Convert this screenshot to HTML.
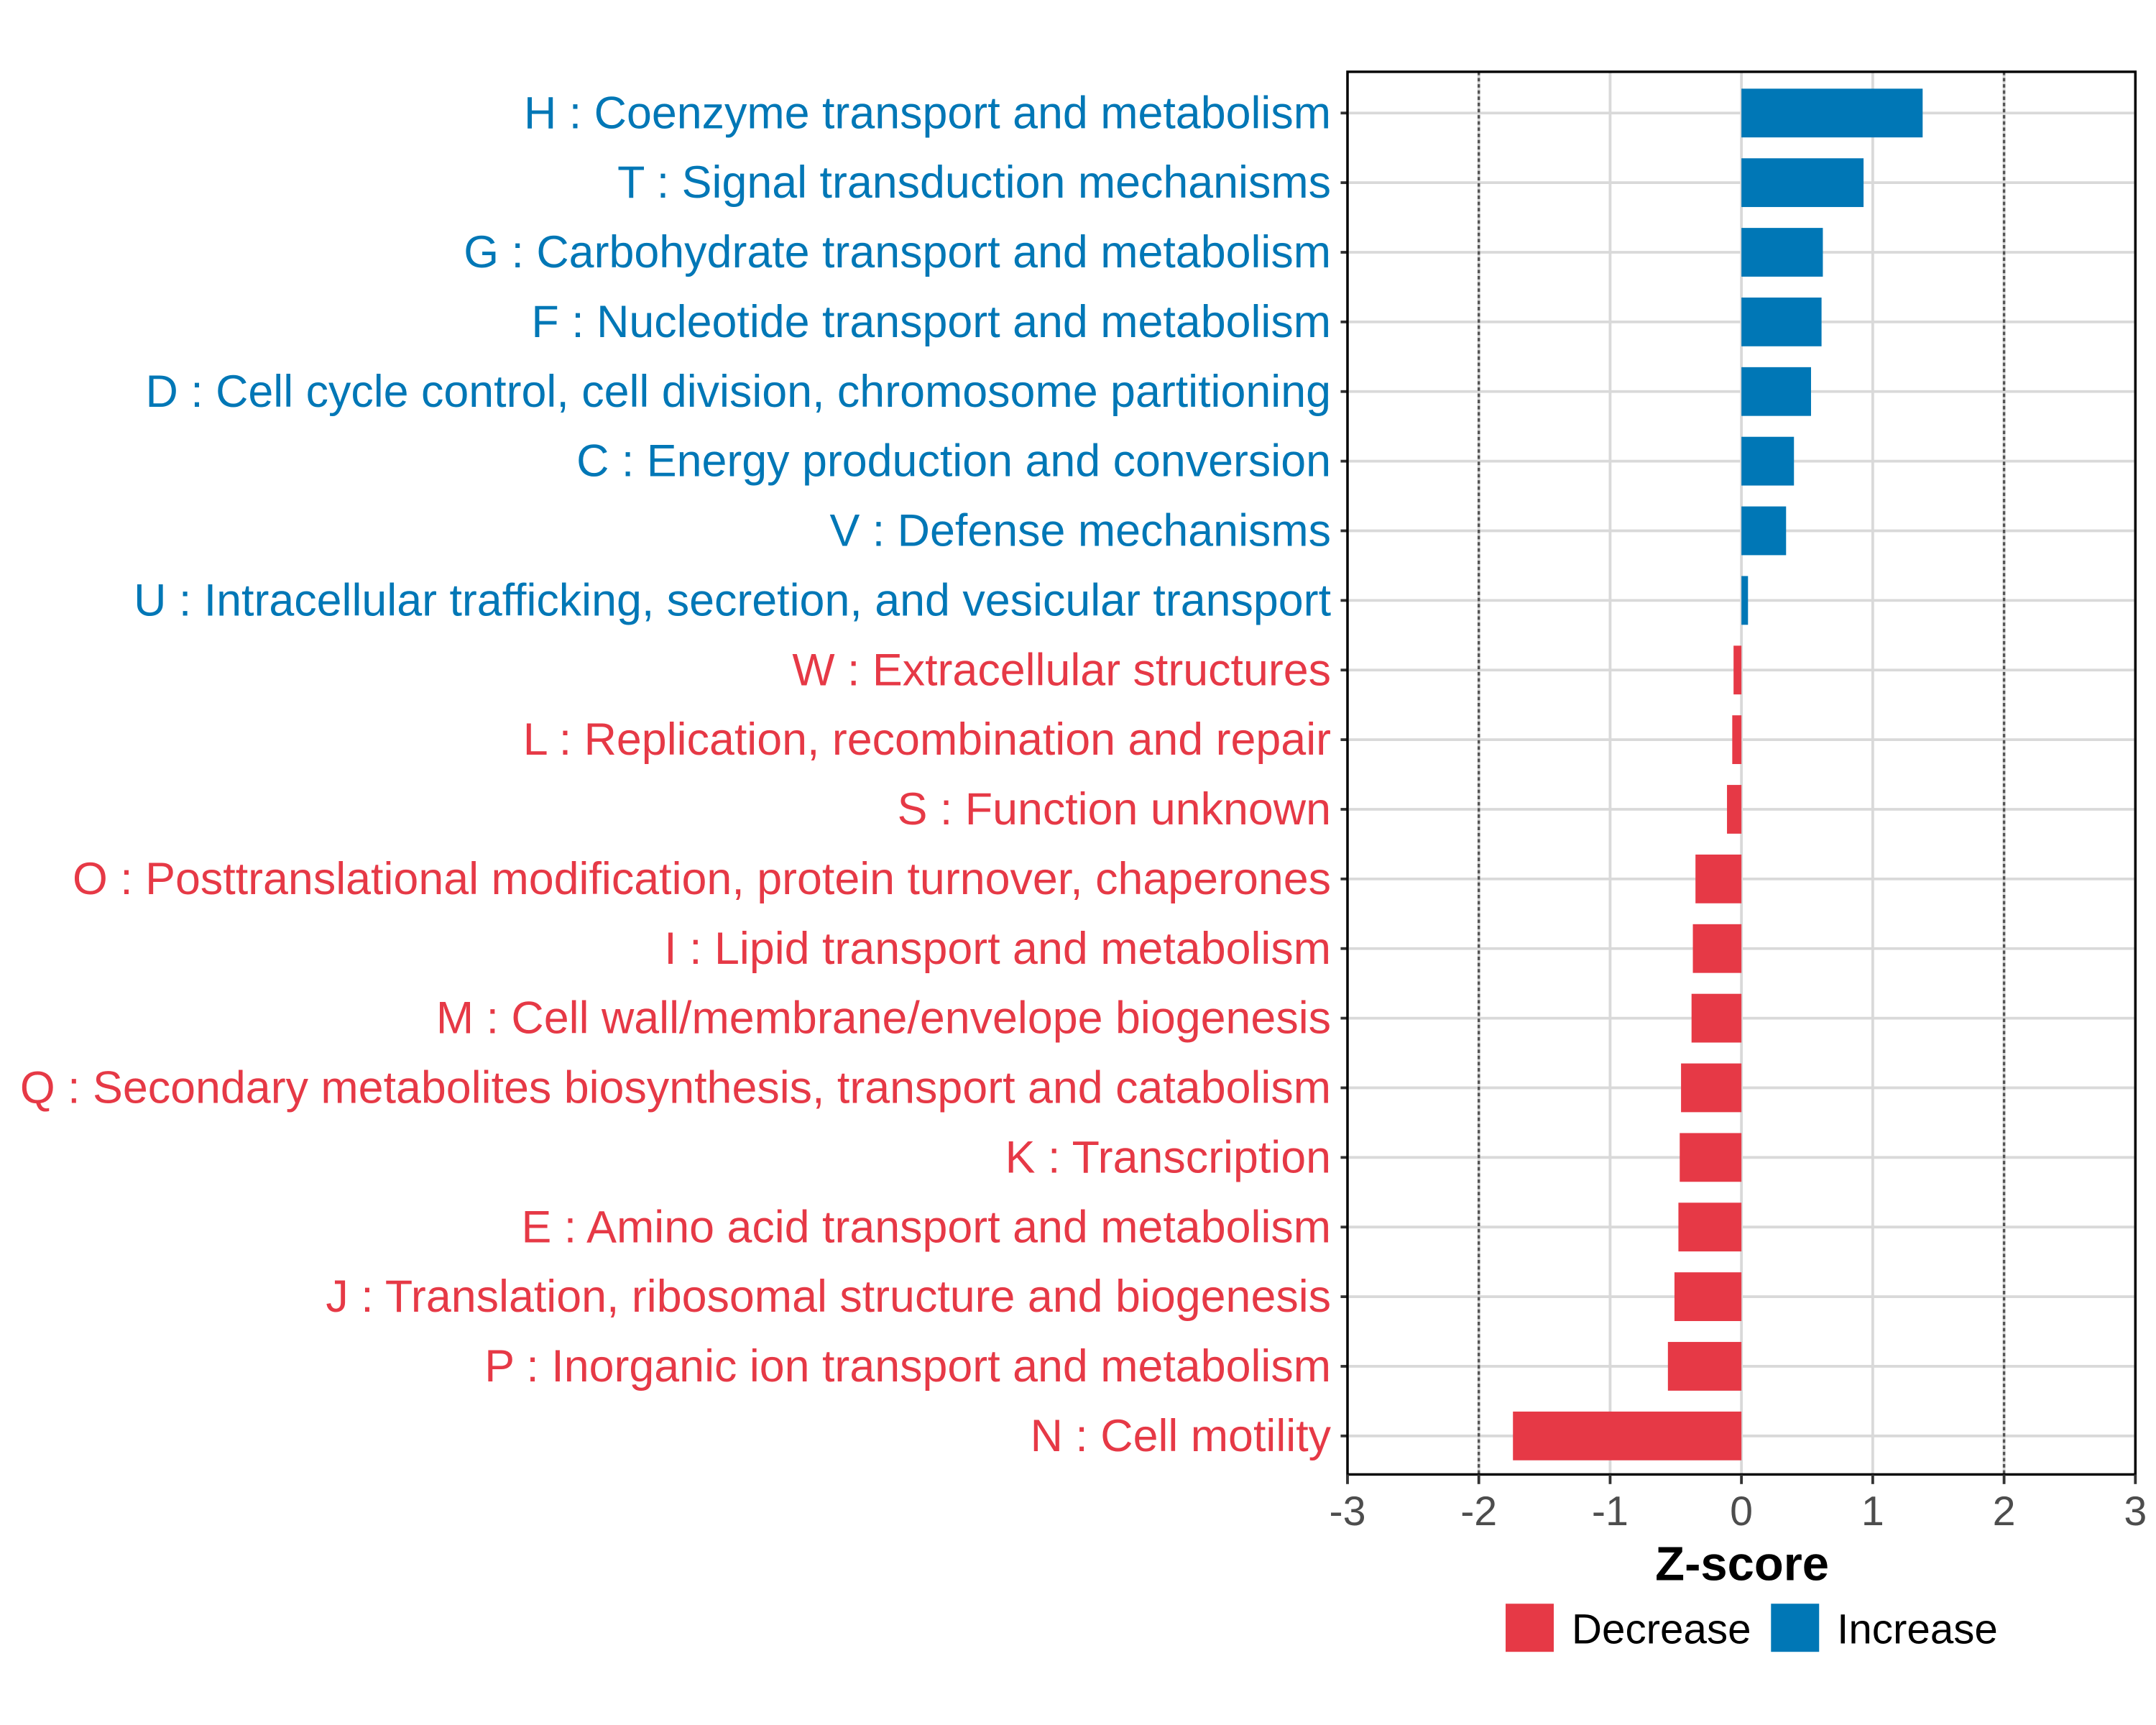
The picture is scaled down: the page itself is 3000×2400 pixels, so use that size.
<!DOCTYPE html>
<html><head><meta charset="utf-8"><style>
html,body{margin:0;padding:0;background:#fff;}
svg{display:block;font-family:"Liberation Sans",Arial,sans-serif;}
</style></head><body>
<svg id="chart" width="3000" height="2400" viewBox="0 0 1568 1254" xmlns="http://www.w3.org/2000/svg">
<rect width="1568" height="1254" fill="#fff"/>
<g id="grid"></g><g id="bars"></g><g id="axes"></g>
</svg>
<script>
const categories = [
"H : Coenzyme transport and metabolism",
"T : Signal transduction mechanisms",
"G : Carbohydrate transport and metabolism",
"F : Nucleotide transport and metabolism",
"D : Cell cycle control, cell division, chromosome partitioning",
"C : Energy production and conversion",
"V : Defense mechanisms",
"U : Intracellular trafficking, secretion, and vesicular transport",
"W : Extracellular structures",
"L : Replication, recombination and repair",
"S : Function unknown",
"O : Posttranslational modification, protein turnover, chaperones",
"I : Lipid transport and metabolism",
"M : Cell wall/membrane/envelope biogenesis",
"Q : Secondary metabolites biosynthesis, transport and catabolism",
"K : Transcription",
"E : Amino acid transport and metabolism",
"J : Translation, ribosomal structure and biogenesis",
"P : Inorganic ion transport and metabolism",
"N : Cell motility"];
const zscores = [1.38,0.93,0.62,0.61,0.53,0.40,0.34,0.05,-0.06,-0.07,-0.11,-0.35,-0.37,-0.38,-0.46,-0.47,-0.48,-0.51,-0.56,-1.74];
const xTicks = [-3,-2,-1,0,1,2,3];
const thresholds = [-2,2];

const NS="http://www.w3.org/2000/svg";
const L=980,R=1553,T=52,B=1072;
const xs=v=>L+(v+3)/6*(R-L);
const y0=82, step=(1044-82)/19;
const ys=i=>y0+i*step;
const BLUE="#0077b6", RED="#e63946";
function mk(tag,attrs,parent){const e=document.createElementNS(NS,tag);for(const k in attrs)e.setAttribute(k,attrs[k]);parent.appendChild(e);return e;}
const grid=document.getElementById('grid'),bars=document.getElementById('bars'),axes=document.getElementById('axes');
xTicks.forEach(t=>{
 const g=mk('line',{x1:xs(t),x2:xs(t),y1:T,y2:B,stroke:'#d9d9d9','stroke-width':2},grid);
 
 
});
categories.forEach((c,i)=>{
 const g=mk('line',{x1:L,x2:R,y1:ys(i),y2:ys(i),stroke:'#d9d9d9','stroke-width':2},grid);
 
 
});
thresholds.forEach(t=>{
 const d=mk('line',{x1:xs(t),x2:xs(t),y1:T,y2:B,stroke:'#555','stroke-width':1.8,'stroke-dasharray':'2.5,2'},grid);
 
 
});
const bh=step*0.7;
zscores.forEach((v,i)=>{
 const x1=xs(Math.min(0,v)),x2=xs(Math.max(0,v));
 const r=mk('rect',{x:x1,y:ys(i)-bh/2,width:x2-x1,height:bh,fill:v>=0?BLUE:RED},bars);
 
 
 const tk=mk('line',{x1:L-5,x2:L,y1:ys(i),y2:ys(i),stroke:'#333','stroke-width':2},axes);
 
 
 const tx=mk('text',{x:968,y:ys(i)+11,'text-anchor':'end','font-size':32.8,fill:v>=0?BLUE:RED},axes);
 tx.textContent=categories[i];
 
 
});
const fr=mk('rect',{x:L,y:T,width:R-L,height:B-T,fill:'none',stroke:'#000','stroke-width':1.8},axes);


xTicks.forEach(t=>{
 const tk=mk('line',{x1:xs(t),x2:xs(t),y1:B,y2:B+7,stroke:'#333','stroke-width':2},axes);
 
 
 const tl=mk('text',{x:xs(t),y:1109,'text-anchor':'middle','font-size':30,fill:'#4d4d4d'},axes);
 tl.textContent=String(t);
 
 
});
const at=mk('text',{x:1267,y:1149,'text-anchor':'middle','font-size':35,'font-weight':'bold',fill:'#000'},axes);
at.textContent='Z-score';


const legend=[["Decrease",RED,1095],["Increase",BLUE,1288]];
legend.forEach(([n,c,x])=>{
 const s=mk('rect',{x:x,y:1166,width:35,height:35,fill:c},axes);
 
 
 const lt=mk('text',{x:x+48,y:1195,'font-size':30.5,fill:'#000'},axes);
 lt.textContent=n;
 
 
});
</script>
</body></html>
